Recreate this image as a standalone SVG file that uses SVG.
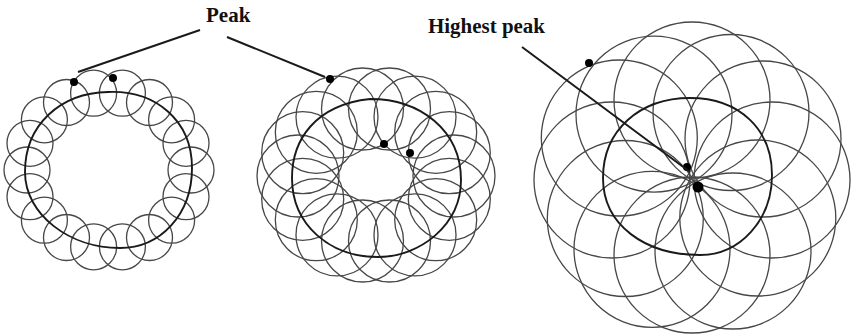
<svg xmlns="http://www.w3.org/2000/svg" width="854" height="335" viewBox="0 0 854 335">
<style>
.c{fill:none;stroke:#474747;stroke-width:1.3}
.p{fill:none;stroke:#1a1a1a;stroke-width:1.9}
.d{fill:#000}
.l{fill:none;stroke:#1a1a1a;stroke-width:2}
.t{font-family:"Liberation Serif",serif;font-weight:bold;font-size:21px;fill:#111}
</style>
<rect width="854" height="335" fill="#fff"/>
<g id="ring-left">
<g class="c">
<circle cx="191" cy="170" r="23"/><circle cx="186" cy="196.7" r="23"/><circle cx="171.6" cy="220.2" r="23"/><circle cx="149.5" cy="237.5" r="23"/><circle cx="122.4" cy="246.8" r="23"/><circle cx="93.6" cy="246.8" r="23"/><circle cx="66.5" cy="237.5" r="23"/><circle cx="44.4" cy="220.2" r="23"/><circle cx="30" cy="196.7" r="23"/><circle cx="27" cy="170" r="23"/><circle cx="30" cy="143.3" r="23"/><circle cx="44.4" cy="119.8" r="23"/><circle cx="66.5" cy="102.5" r="23"/><circle cx="93.6" cy="93.2" r="23"/><circle cx="122.4" cy="93.2" r="23"/><circle cx="149.5" cy="102.5" r="23"/><circle cx="171.6" cy="119.8" r="23"/><circle cx="186" cy="143.3" r="23"/>
</g>
<path class="p" d="M108 92 C155 90 192 120 192 168 C192 215 160 248 120 248 C70 248 25 215 25 172 C25 125 60 93 108 92 Z"/>
<circle class="d" cx="74" cy="82" r="4"/>
<circle class="d" cx="113" cy="78" r="4"/>
</g>
<g id="ring-middle">
<g class="c">
<circle cx="454" cy="176" r="41"/><circle cx="449.3" cy="199.3" r="41"/><circle cx="435.7" cy="219.7" r="41"/><circle cx="415" cy="234.9" r="41"/><circle cx="389.5" cy="241" r="41"/><circle cx="362.5" cy="241" r="41"/><circle cx="337" cy="234.9" r="41"/><circle cx="316.3" cy="219.7" r="41"/><circle cx="302.7" cy="199.3" r="41"/><circle cx="298" cy="176" r="41"/><circle cx="302.7" cy="152.7" r="41"/><circle cx="316.3" cy="132.3" r="41"/><circle cx="337" cy="117.1" r="41"/><circle cx="362.5" cy="109" r="41"/><circle cx="389.5" cy="109" r="41"/><circle cx="415" cy="117.1" r="41"/><circle cx="435.7" cy="132.3" r="41"/><circle cx="449.3" cy="152.7" r="41"/>
</g>
<path class="p" d="M370 99 C420 99 461 130 461 180 C461 225 420 257 378 257 C330 257 292 225 292 178 C292 140 315 105 370 99 Z"/>
<circle class="d" cx="330" cy="79" r="4"/>
<circle class="d" cx="384" cy="144" r="4"/>
<circle class="d" cx="410" cy="153" r="4"/>
</g>
<g id="ring-right">
<g class="c">
<circle cx="772" cy="180" r="78"/><circle cx="757.8" cy="218" r="78"/><circle cx="733" cy="251" r="78"/><circle cx="692" cy="255" r="78"/><circle cx="652" cy="249.3" r="78"/><circle cx="625.3" cy="218.5" r="78"/><circle cx="612" cy="180" r="78"/><circle cx="619.3" cy="138" r="78"/><circle cx="654" cy="114.2" r="78"/><circle cx="692" cy="100" r="78"/><circle cx="731" cy="112.5" r="78"/><circle cx="763" cy="139" r="78"/>
</g>
<path class="p" d="M690 98 C740 98 772 130 772 175 C772 220 740 255 700 255 C645 255 603 225 603 178 C603 130 640 98 690 98 Z"/>
<circle class="d" cx="589" cy="63" r="4"/>
<circle class="d" cx="687" cy="167" r="4"/>
<circle class="d" cx="698" cy="187" r="5.5"/>
</g>
<g id="label-peak">
<text class="t" x="206" y="22">Peak</text>
</g>
<g id="label-highest">
<text class="t" x="428" y="33" textLength="117" lengthAdjust="spacingAndGlyphs">Highest peak</text>
</g>
<g id="connectors">
<line class="l" x1="78" y1="72" x2="200" y2="30"/>
<line class="l" x1="227" y1="37" x2="325" y2="77"/>
<line class="l" x1="522" y1="47" x2="690" y2="172"/>
</g>
</svg>
